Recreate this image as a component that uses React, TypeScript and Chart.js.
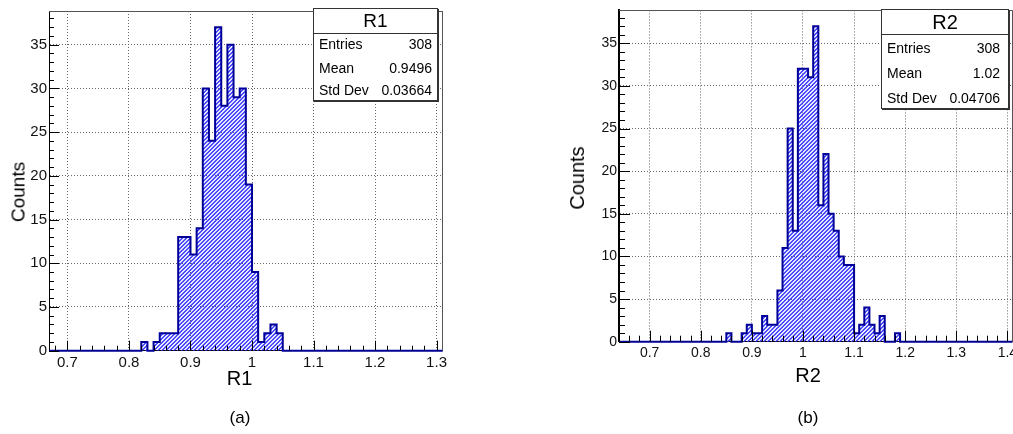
import React, { useEffect, useRef } from "react";
import { Chart, registerables } from "chart.js";

Chart.register(...registerables);

// ---------- data ----------
const binWidth = 0.01;

const r1FirstBin = 0.82;
const r1Counts = [1, 0, 1, 2, 2, 2, 13, 13, 11, 14, 30, 24, 37, 28, 35, 29, 30, 19, 9, 1, 2, 3, 2];
const r1Range = [0.67, 1.31];
const r1XTickLabels = ["0.7", "0.8", "0.9", "1", "1.1", "1.2", "1.3"];

const r2FirstBin = 0.85;
const r2Counts = [1, 0, 0, 1, 2, 1, 1, 3, 2, 2, 6, 11, 25, 13, 32, 32, 31, 37, 16, 22, 15, 13, 10, 9, 9, 1, 2, 4, 2, 1, 3, 0, 0, 1];
const r2Range = [0.64, 1.41];
const r2XTickLabels = ["0.7", "0.8", "0.9", "1", "1.1", "1.2", "1.3", "1.4"];

const yTickLabels = ["0", "5", "10", "15", "20", "25", "30", "35"];
const yMax = 38.85;

const statLabels = ["Entries", "Mean", "Std Dev"];
const r1StatValues = ["308", "0.9496", "0.03664"];
const r2StatValues = ["308", "1.02", "0.04706"];

// ---------- helpers ----------
const FONT = '"Liberation Sans", Arial, Helvetica, sans-serif';

function buildPoints(firstBin: number, counts: number[], range: number[]) {
  const pts: { x: number; y: number }[] = [{ x: range[0], y: 0 }];
  counts.forEach((c, i) => pts.push({ x: +(firstBin + i * binWidth).toFixed(4), y: c }));
  pts.push({ x: +(firstBin + counts.length * binWidth).toFixed(4), y: 0 });
  pts.push({ x: range[1], y: 0 });
  return pts;
}

type PanelSpec = {
  left: number;
  width: number;
  height: number;
  padTop: number;
  padRight: number;
  yAxisW: number;
  xAxisH: number;
  tickFont: number;
  majorLen: number;
  minorLen: number;
  axisWidth: number;
};

function HistPanel(props: {
  firstBin: number;
  counts: number[];
  range: number[];
  xTickLabels: string[];
  spec: PanelSpec;
}) {
  const { firstBin, counts, range, xTickLabels, spec } = props;
  const ref = useRef<HTMLCanvasElement>(null);

  useEffect(() => {
    const canvas = ref.current!;
    const xVals = xTickLabels.map((l) => parseFloat(l));
    const yVals = yTickLabels.map((l) => parseFloat(l));

    // hatched fill, clipped to the bins (positions through the chart's scales)
    const hatch = {
      id: "hatch",
      beforeDatasetsDraw(chart: any) {
        const c = chart.ctx as CanvasRenderingContext2D;
        const a = chart.chartArea;
        const xs = chart.scales.x;
        const ys = chart.scales.y;
        const y0 = ys.getPixelForValue(0);
        c.save();
        c.beginPath();
        counts.forEach((n, i) => {
          if (n <= 0) return;
          const xl = xs.getPixelForValue(firstBin + i * binWidth);
          const xr = xs.getPixelForValue(firstBin + (i + 1) * binWidth);
          const yt = ys.getPixelForValue(n);
          c.rect(xl, yt, xr - xl, y0 - yt);
        });
        c.clip();
        c.strokeStyle = "#3434ff";
        c.lineWidth = 1.4;
        c.beginPath();
        const top = Math.floor(a.top);
        const bottom = Math.ceil(a.bottom);
        const H = bottom - top;
        const sp = 4;
        const x0 = Math.floor(a.left) + 0.5;
        for (let k = -H; k <= a.right - a.left + sp; k += sp) {
          c.moveTo(x0 + k, bottom);
          c.lineTo(x0 + k + H, top);
        }
        c.stroke();
        c.restore();
      },
    };

    const frameTicks = {
      id: "frameTicks",
      afterDatasetsDraw(chart: any) {
        const c = chart.ctx as CanvasRenderingContext2D;
        const a = chart.chartArea;
        const xs = chart.scales.x;
        const ys = chart.scales.y;
        c.save();
        c.lineWidth = 1;
        c.strokeStyle = "#555";
        c.beginPath();
        c.moveTo(a.left, Math.round(a.top) + 0.5);
        c.lineTo(a.right, Math.round(a.top) + 0.5);
        c.moveTo(Math.round(a.right) - 0.5, a.top);
        c.lineTo(Math.round(a.right) - 0.5, a.bottom);
        c.stroke();

        c.strokeStyle = "#000";
        c.beginPath();
        const step = 0.02;
        const start = Math.ceil(range[0] / step - 1e-6);
        for (let k = start; k * step <= range[1] + 1e-9; k++) {
          const v = k * step;
          const major = k % 5 === 0;
          const px = Math.round(xs.getPixelForValue(v)) + 0.5;
          c.moveTo(px, a.bottom);
          c.lineTo(px, a.bottom - (major ? spec.majorLen : spec.minorLen));
        }
        for (let v = 0; v <= Math.floor(yMax); v++) {
          const major = v % 5 === 0;
          const py = Math.round(ys.getPixelForValue(v)) + 0.5;
          c.moveTo(a.left, py);
          c.lineTo(a.left + (major ? spec.majorLen : spec.minorLen), py);
        }
        c.stroke();
        c.restore();
      },
    };

    const chart = new Chart(canvas, {
      type: "line",
      data: {
        datasets: [
          {
            data: buildPoints(firstBin, counts, range),
            stepped: "before",
            borderColor: "#000099",
            borderWidth: 2,
            backgroundColor: "rgba(0,0,0,0)",
            fill: false,
            pointRadius: 0,
            tension: 0,
            clip: false as any,
          },
        ],
      },
      options: {
        animation: false,
        responsive: false,
        events: [],
        layout: { padding: { left: 0, top: spec.padTop, right: spec.padRight, bottom: 0 } },
        plugins: {
          legend: { display: false },
          tooltip: { enabled: false },
          title: { display: false },
        },
        scales: {
          x: {
            type: "linear",
            min: range[0],
            max: range[1],
            afterBuildTicks: (s: any) => {
              s.ticks = xVals.map((v) => ({ value: v }));
            },
            afterFit: (s: any) => {
              s.height = spec.xAxisH;
            },
            ticks: {
              callback: (_v: any, i: number) => xTickLabels[i],
              font: { family: FONT, size: spec.tickFont },
              color: "#111",
              padding: 3,
              maxRotation: 0,
              autoSkip: false,
            },
            grid: { color: "#666", drawTicks: false, lineWidth: 1 },
            border: { display: true, color: "#000", width: 1, dash: [1, 2] },
          },
          y: {
            type: "linear",
            min: 0,
            max: yMax,
            afterBuildTicks: (s: any) => {
              s.ticks = yVals.map((v) => ({ value: v }));
            },
            afterFit: (s: any) => {
              s.width = spec.yAxisW;
            },
            ticks: {
              callback: (_v: any, i: number) => yTickLabels[i],
              font: { family: FONT, size: spec.tickFont },
              color: "#111",
              padding: 2,
              autoSkip: false,
            },
            grid: { color: "#666", drawTicks: false, lineWidth: 1 },
            border: { display: true, color: "#000", width: spec.axisWidth, dash: [1, 2] },
          },
        },
      },
      plugins: [hatch, frameTicks],
    });
    return () => chart.destroy();
  }, []);

  return (
    <canvas
      ref={ref}
      width={spec.width}
      height={spec.height}
      style={{
        position: "absolute",
        left: spec.left,
        top: 0,
        width: spec.width,
        height: spec.height,
        display: "block",
      }}
    />
  );
}

function Label(props: { text: string; x: number; y: number; size: number; rotate?: boolean }) {
  return (
    <div
      style={{
        position: "absolute",
        left: props.x,
        top: props.y,
        transform: `translate(-50%, -50%)${props.rotate ? " rotate(-90deg)" : ""}`,
        fontFamily: FONT,
        fontSize: props.size,
        lineHeight: 1,
        whiteSpace: "nowrap",
        color: "#000",
      }}
    >
      {props.text}
    </div>
  );
}

function StatsBox(props: {
  title: string;
  values: string[];
  left: number;
  top: number;
  width: number;
  height: number;
  titleH: number;
  titleSize: number;
  rowCenters: number[];
  rowSize: number;
  inset: number;
  valueInset: number;
}) {
  const p = props;
  return (
    <div
      style={{
        position: "absolute",
        left: p.left,
        top: p.top,
        width: p.width,
        height: p.height,
        boxSizing: "border-box",
        border: "1px solid #333",
        boxShadow: "1px 1px 0 #333",
        background: "#fff",
        fontFamily: FONT,
        color: "#000",
      }}
    >
      <div
        style={{
          position: "absolute",
          left: 0,
          top: 0,
          right: 0,
          height: p.titleH,
          borderBottom: "1px solid #333",
          fontSize: p.titleSize,
          lineHeight: `${p.titleH}px`,
          textAlign: "center",
        }}
      >
        {p.title}
      </div>
      {statLabels.map((lab, i) => (
        <div
          key={lab}
          style={{
            position: "absolute",
            left: p.inset,
            right: p.valueInset,
            top: p.rowCenters[i] - 10,
            height: 20,
            lineHeight: "20px",
            fontSize: p.rowSize,
            display: "flex",
            justifyContent: "space-between",
            whiteSpace: "nowrap",
          }}
        >
          <span>{lab}</span>
          <span>{p.values[i]}</span>
        </div>
      ))}
    </div>
  );
}

const leftSpec: PanelSpec = {
  left: 0,
  width: 470,
  height: 400,
  padTop: 5,
  padRight: 27.3,
  yAxisW: 49,
  xAxisH: 49.3,
  tickFont: 15,
  majorLen: 10,
  minorLen: 5,
  axisWidth: 1,
};

const rightSpec: PanelSpec = {
  left: 500,
  width: 540,
  height: 400,
  padTop: 4,
  padRight: 27.5,
  yAxisW: 119,
  xAxisH: 58.3,
  tickFont: 14,
  majorLen: 11,
  minorLen: 6,
  axisWidth: 2,
};

export default function App() {
  return (
    <div
      style={{
        position: "absolute",
        left: 0,
        top: 0,
        width: 1013,
        height: 434,
        overflow: "hidden",
        background: "#fff",
      }}
    >
      <HistPanel firstBin={r1FirstBin} counts={r1Counts} range={r1Range} xTickLabels={r1XTickLabels} spec={leftSpec} />
      <HistPanel firstBin={r2FirstBin} counts={r2Counts} range={r2Range} xTickLabels={r2XTickLabels} spec={rightSpec} />

      <Label text="Counts" x={17.5} y={192} size={19} rotate />
      <Label text="R1" x={239.5} y={378} size={20} />
      <Label text="(a)" x={240} y={417} size={17} />

      <Label text="Counts" x={577} y={178} size={20} rotate />
      <Label text="R2" x={808} y={375} size={20} />
      <Label text="(b)" x={808} y={417} size={17} />

      <StatsBox
        title="R1"
        values={r1StatValues}
        left={313}
        top={8}
        width={125}
        height={93}
        titleH={24}
        titleSize={19}
        rowCenters={[35.3, 58.7, 81]}
        rowSize={14}
        inset={5}
        valueInset={5}
      />
      <StatsBox
        title="R2"
        values={r2StatValues}
        left={881}
        top={9}
        width={128}
        height={100}
        titleH={24}
        titleSize={20}
        rowCenters={[37.7, 63, 88.3]}
        rowSize={14}
        inset={5}
        valueInset={8}
      />
    </div>
  );
}
